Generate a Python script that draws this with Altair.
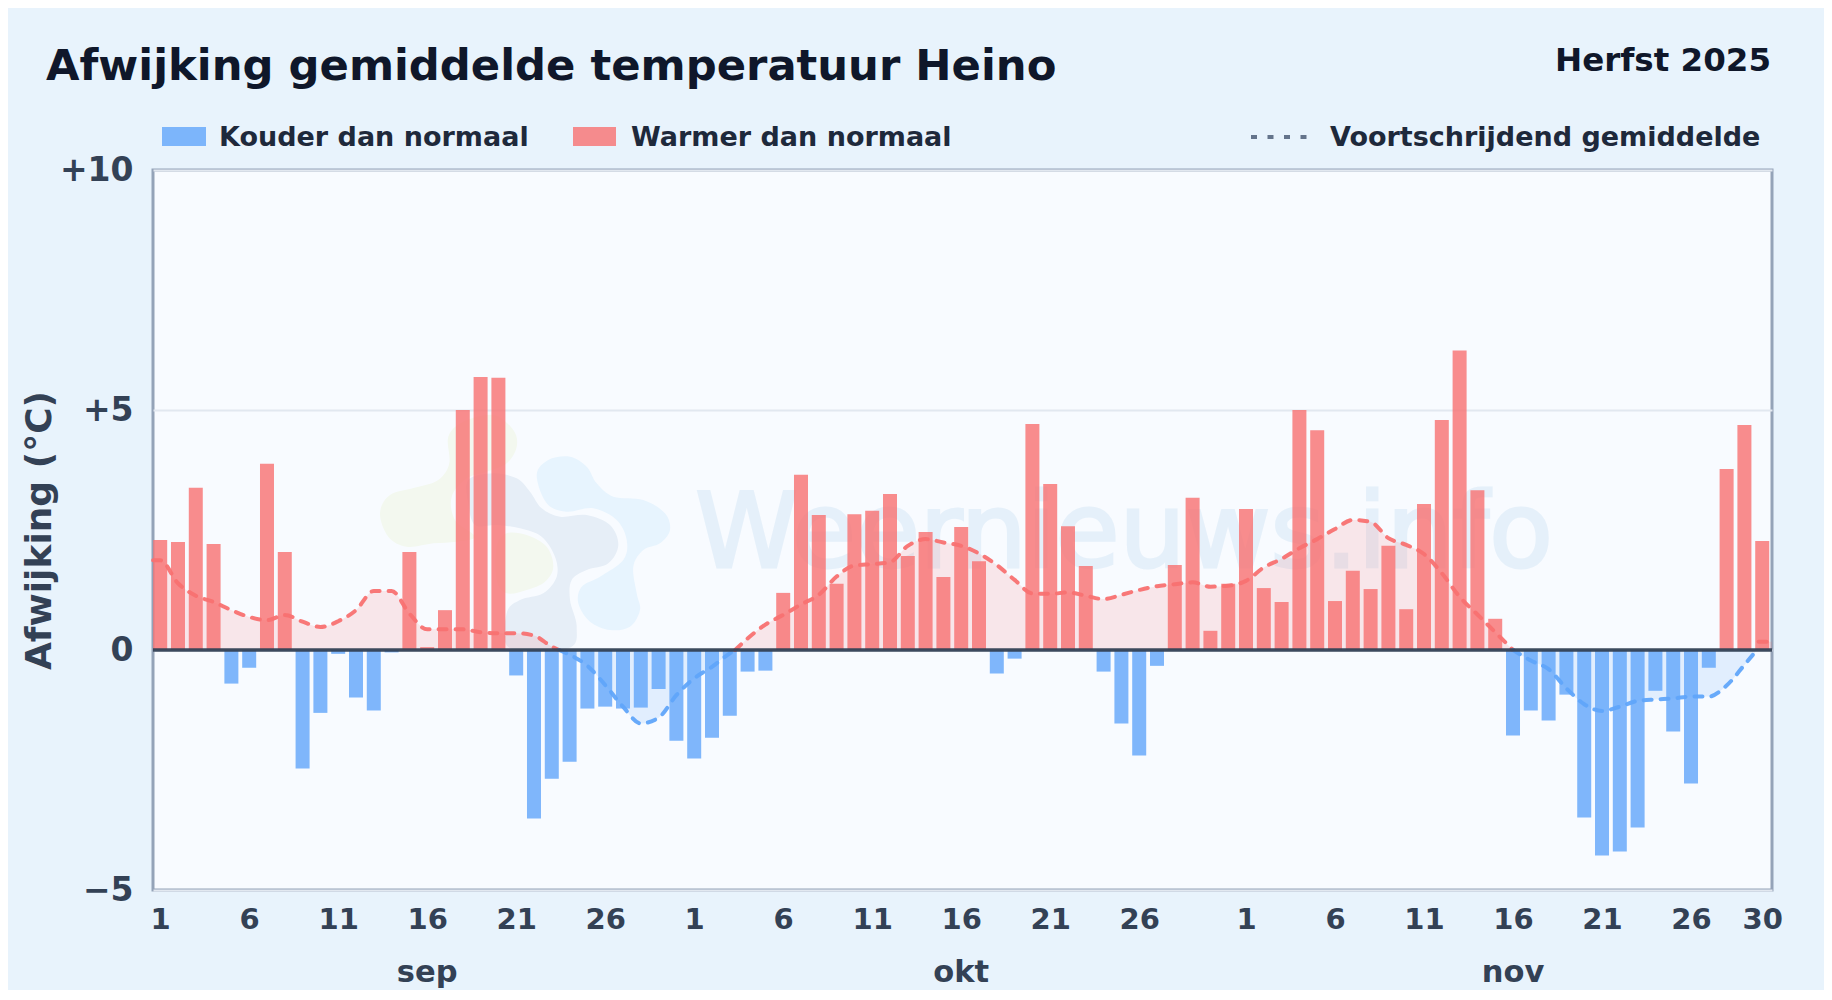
import json
import altair as alt
import pandas as pd

FONT = "DejaVu Sans"
COLD, WARM = "Kouder dan normaal", "Warmer dan normaal"

# Daily anomaly (deg C), 1 Sep - 30 Nov 2025
sep_values = [2.29, 2.25, 3.38, 2.21, -0.70, -0.37, 3.88, 2.04, -2.47, -1.31,
              -0.08, -0.99, -1.26, -0.05, 2.04, 0.06, 0.83, 5.00, 5.69, 5.67,
              -0.53, -3.51, -2.68, -2.33, -1.22, -1.18, -1.22, -1.20, -0.81, -1.89]
okt_values = [-2.26, -1.83, -1.37, -0.45, -0.43, 1.19, 3.65, 2.81, 1.38, 2.83,
              2.90, 3.25, 1.96, 2.46, 1.52, 2.56, 1.85, -0.49, -0.18, 4.71,
              3.46, 2.58, 1.75, -0.45, -1.53, -2.20, -0.33, 1.77, 3.17, 0.40, 1.38]
nov_values = [2.94, 1.29, 1.00, 5.00, 4.58, 1.02, 1.65, 1.27, 2.17, 0.85,
              3.04, 4.79, 6.24, 3.33, 0.65, -1.78, -1.26, -1.47, -0.93, -3.49,
              -4.28, -4.20, -3.70, -0.85, -1.70, -2.78, -0.37, 3.77, 4.69, 2.27]
anomaly = sep_values + okt_values + nov_values

# Running mean, one run per sign, as (day index, value) pairs
run_1_x = [-0.4, 0, 1, 2, 3, 4, 5, 6, 7, 8, 9, 10, 11, 12, 13, 14, 15, 16, 17, 18, 19, 20, 21, 22, 22.4]
run_1_y = [1.87, 1.87, 1.39, 1.13, 1.00, 0.83, 0.69, 0.62, 0.73, 0.59, 0.48, 0.60, 0.83, 1.23, 1.23,
           0.76, 0.43, 0.43, 0.43, 0.37, 0.35, 0.35, 0.30, 0.07, 0]
run_2_x = [22.4, 23, 24, 25, 26, 27, 28, 29, 30, 31, 32, 32.3]
run_2_y = [0, -0.10, -0.33, -0.73, -1.18, -1.53, -1.41, -0.94, -0.59, -0.35, -0.07, 0]
run_3_x = [32.3, 33, 34, 35, 36, 37, 38, 39, 40, 41, 42, 43, 44, 45, 46, 47, 48, 49, 50, 51, 52, 53, 54,
           55, 56, 57, 58, 59, 60, 61, 62, 63, 64, 65, 66, 67, 68, 69, 70, 71, 72, 73, 74, 75, 76]
run_3_y = [0, 0.24, 0.53, 0.73, 0.95, 1.15, 1.53, 1.76, 1.79, 1.83, 2.17, 2.31, 2.24, 2.17, 2.01, 1.77,
           1.46, 1.18, 1.17, 1.20, 1.13, 1.06, 1.15, 1.25, 1.33, 1.37, 1.41, 1.32, 1.34, 1.44, 1.72, 1.90,
           2.12, 2.31, 2.52, 2.71, 2.67, 2.33, 2.19, 2.00, 1.60, 1.11, 0.74, 0.37, 0]
run_4_x = [76, 77, 78, 79, 80, 81, 82, 83, 84, 85, 86, 87, 88, 89, 89.7]
run_4_y = [0, -0.22, -0.40, -0.80, -1.13, -1.27, -1.18, -1.06, -1.03, -1.01, -0.97, -0.97, -0.74, -0.31, 0]
run_5_x = [89.8, 90, 90.55]
run_5_y = [0.17, 0.17, 0.17]

tick_days = [0, 5, 10, 15, 20, 25, 30, 35, 40, 45, 50, 55, 61, 66, 71, 76, 81, 86, 90]
tick_labels = ["1", "6", "11", "16", "21", "26", "1", "6", "11", "16", "21", "26",
               "1", "6", "11", "16", "21", "26", "30"]
month_days = [15, 45, 76]
month_labels = ["sep", "okt", "nov"]

# Faint logo behind the plot: closed outlines in zoomed reference units
logo_green_a = [(60, 340), (90, 285), (170, 262), (235, 240), (268, 190), (265, 110), (310, 65), (400, 45),
                (460, 90), (470, 140), (440, 190), (380, 215), (320, 235), (275, 290), (285, 360), (345, 410),
                (290, 425), (220, 430), (140, 440), (85, 410)]
logo_gray = [(325, 240), (400, 220), (470, 235), (510, 275), (545, 325), (600, 350), (680, 345), (750, 375),
             (775, 435), (745, 490), (680, 510), (635, 540), (630, 600), (650, 680), (625, 745), (450, 745),
             (440, 640), (480, 600), (550, 580), (590, 530), (585, 470), (545, 410), (480, 385), (410, 375),
             (345, 375), (325, 310)]
logo_green_b = [(440, 400), (500, 405), (560, 440), (580, 500), (555, 545), (500, 570), (440, 580), (410, 540), (410, 440)]
logo_blue = [(530, 225), (565, 180), (630, 170), (680, 200), (710, 250), (760, 290), (850, 300), (915, 340),
             (930, 390), (900, 430), (850, 450), (820, 500), (830, 580), (840, 630), (810, 680), (750, 690),
             (690, 665), (655, 610), (665, 560), (720, 530), (790, 480), (800, 420), (770, 360), (700, 325),
             (620, 335), (560, 310)]

PW, PH = 1619, 720
X_DOMAIN = [-0.404, 90.55]
TEXT = "#334155"
LEGEND_TEXT = "#1e293b"
TITLE_TEXT = "#0f172a"

bars = pd.DataFrame({
    "day": list(range(len(anomaly))),
    "value": anomaly,
    "kind": [WARM if v >= 0 else COLD for v in anomaly],
})
rows = []
for run, (xs, ys) in enumerate([(run_1_x, run_1_y), (run_2_x, run_2_y), (run_3_x, run_3_y),
                                (run_4_x, run_4_y), (run_5_x, run_5_y)]):
    kind = COLD if min(ys) < 0 else WARM
    rows += [{"day": a, "value": b, "run": run, "kind": kind} for a, b in zip(xs, ys)]
mean = pd.DataFrame(rows)
months = pd.DataFrame({"day": month_days, "label": month_labels})
one = pd.DataFrame({"a": [0]})

label_map = json.dumps({str(d): t for d, t in zip(tick_days, tick_labels)})
x_axis = alt.Axis(values=tick_days, labelExpr=f"{label_map}[datum.value]", title=None, grid=False,
                  ticks=False, domain=False, labelFont=FONT, labelFontSize=29, labelFontWeight="bold",
                  labelColor=TEXT, labelPadding=15, labelOverlap=False, labelBound=False, labelFlush=False)
y_axis = alt.Axis(values=[-5, 0, 5, 10],
                  labelExpr="datum.value > 0 ? '+' + datum.value : datum.value < 0 ? '\u2212' + abs(datum.value) : '0'",
                  title="Afwijking (\u00b0C)", titleFont=FONT, titleFontSize=36, titleFontWeight="bold",
                  titleColor=TEXT, titleX=-114, titleY=360, titleBaseline="middle", grid=True,
                  gridColor="#e2e8f0", gridWidth=2,
                  ticks=False, domain=False, labelFont=FONT, labelFontSize=33, labelFontWeight="bold",
                  labelColor=TEXT, labelPadding=20, labelOverlap=False, labelBound=False, labelFlush=False)
x_scale = alt.Scale(domain=X_DOMAIN, nice=False, zero=False, padding=0)
x_enc = alt.X("day:Q", scale=x_scale, axis=x_axis)
y_enc = alt.Y("value:Q", scale=alt.Scale(domain=[-5, 10], nice=False, zero=False), axis=y_axis)
colors = alt.Color("kind:N", scale=alt.Scale(domain=[COLD, WARM], range=["#60a5fa", "#f87171"]), legend=None)


def blob(points):
    """Smooth closed outline, in plot-relative pixels."""
    p = [(x / 3 + 360 - 153, y / 3 + 400 - 170) for x, y in points]
    n = len(p)
    d = f"M{p[0][0]:.1f},{p[0][1]:.1f}"
    for i in range(n):
        p0, p1, p2, p3 = p[i - 1], p[i], p[(i + 1) % n], p[(i + 2) % n]
        c1 = (p1[0] + (p2[0] - p0[0]) / 6, p1[1] + (p2[1] - p0[1]) / 6)
        c2 = (p2[0] - (p3[0] - p1[0]) / 6, p2[1] - (p3[1] - p1[1]) / 6)
        d += f"C{c1[0]:.1f},{c1[1]:.1f} {c2[0]:.1f},{c2[1]:.1f} {p2[0]:.1f},{p2[1]:.1f}"
    return d + "Z"


def logo_part(points, fill):
    return alt.Chart(one).mark_point(shape=blob(points), size=4, filled=True, fill=fill, opacity=1,
                                     strokeWidth=0, clip=False).encode(x=alt.value(0), y=alt.value(0))


def label(text, x, y, size, color, align="left"):
    return alt.Chart(one).mark_text(text=text, font=FONT, fontSize=size, fontWeight="bold", color=color,
                                    align=align, baseline="middle").encode(x=alt.value(x), y=alt.value(y))


def swatch(x, x2, color):
    return alt.Chart(one).mark_rect(color=color, opacity=0.8).encode(
        x=alt.value(x), x2=alt.value(x2), y=alt.value(-43), y2=alt.value(-24))


watermark = alt.Chart(one).mark_text(text="Weernieuws.info", font=FONT, fontSize=104, fontWeight="normal",
                                     color="#dcebf8", stroke="#dcebf8", strokeWidth=3, align="center",
                                     baseline="middle", opacity=0.65).encode(
    x=alt.value(971), y=alt.value(366))

base = alt.Chart(bars).mark_bar(width=14, opacity=0.8).encode(x=x_enc, y=y_enc, y2=alt.datum(0), color=colors)
area = alt.Chart(mean).mark_area(interpolate="monotone", opacity=0.15).encode(
    x=x_enc, y=y_enc, y2=alt.datum(0), color=colors, detail="run:N")
line = alt.Chart(mean).mark_line(interpolate="monotone", strokeDash=[8, 9], strokeWidth=4,
                                 strokeCap="round", opacity=0.95).encode(
    x=x_enc, y=y_enc, color=colors, detail="run:N")
zero = alt.Chart(one).mark_rule(color=TEXT, strokeWidth=3.4, opacity=0.95).encode(y=alt.datum(0))
month_text = alt.Chart(months).mark_text(font=FONT, fontSize=30.5, fontWeight="bold", color=TEXT,
                                         baseline="middle").encode(
    x=alt.X("day:Q", scale=x_scale),
    y=alt.value(803), text="label:N")
dots = alt.Chart(one).mark_rule(color="#64748b", strokeWidth=4, strokeDash=[6, 10.5]).encode(
    x=alt.value(1098), x2=alt.value(1155), y=alt.value(-33))

chart = alt.layer(
    logo_part(logo_green_a, "#f3f8ef"),
    logo_part(logo_green_b, "#f3f8ef"),
    logo_part(logo_gray, "#e6eef7"),
    logo_part(logo_blue, "#e7f4fe"),
    watermark,
    area,
    base,
    line,
    zero,
    month_text,
    swatch(9, 53, "#60a5fa"),
    label(COLD, 66, -32, 27, LEGEND_TEXT),
    swatch(420, 463, "#f87171"),
    label(WARM, 478, -32, 27, LEGEND_TEXT),
    dots,
    label("Voortschrijdend gemiddelde", 1177, -32, 27, LEGEND_TEXT),
    label("Afwijking gemiddelde temperatuur Heino", -107, -103, 43.3, TITLE_TEXT),
    label("Herfst 2025", 1618, -109, 32.5, TITLE_TEXT, "right"),
).properties(
    width=PW,
    height=PH,
    padding={"left": 145, "top": 162, "right": 52, "bottom": 100},
    autosize=alt.AutoSizeParams(type="none"),
    background="#e8f3fc",
).configure_view(fill="#f8fbff", stroke="#94a3b8", strokeWidth=3)

chart.save("out.html", embed_options={"renderer": "svg", "actions": False})
